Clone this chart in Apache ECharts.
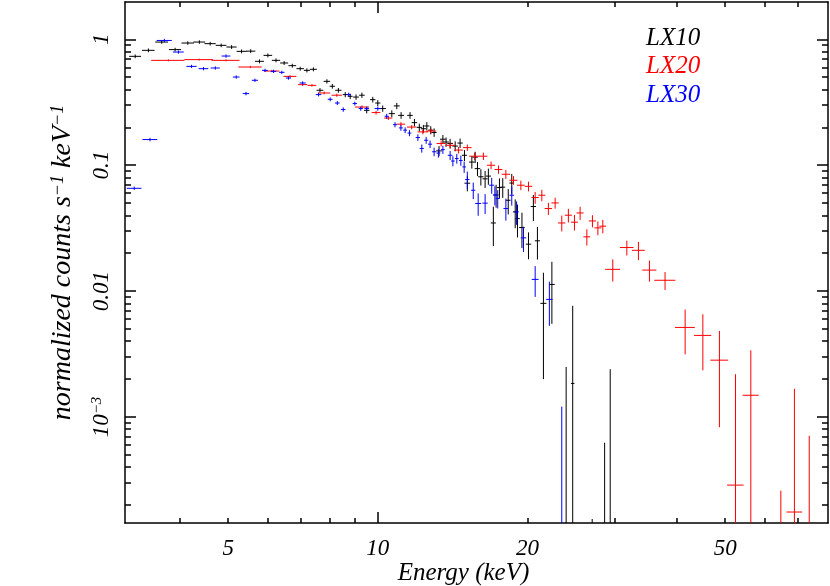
<!DOCTYPE html>
<html><head><meta charset="utf-8">
<script src="https://cdn.jsdelivr.net/npm/echarts@6/dist/echarts.min.js"></script>
<style>html,body{margin:0;padding:0;background:#fff}#c{width:830px;height:586px}</style>
</head><body><div id="c"></div>
<script>
// ---- data (energy keV, half bin width, normalized counts, 1-sigma error) ----
const lx10E  = [3.25,3.455,3.675,3.91,4.147,4.375,4.6,4.84,5.08,5.32,5.55,5.78,6.01,6.24,6.48,6.73,6.98,7.2,7.42,7.65,7.9,8.1,8.33,8.6,8.8,9.04,9.29,9.5,9.77,10.0,10.23,10.67,10.92,11.14,11.61,11.85,12.12,12.35,12.55,12.78,12.98,13.28,13.52,13.72,13.98,14.31,14.64,14.94,15.14,15.46,15.7,15.87,16.12,16.44,16.69,17.08,17.3,17.57,17.84,18.3,18.6,18.9,19.1,19.5,20.1,20.56,20.95,21.54,22.4,23.93,24.67,27.0,28.6,29.35];
const lx10dE = [0.09,0.1,0.11,0.11,0.12,0.12,0.12,0.12,0.12,0.12, 0.12,0.12,0.12,0.12,0.12,0.12,0.12,0.1,0.12,0.12, 0.12,0.1,0.12,0.1,0.1,0.12,0.12,0.12,0.12,0.12, 0.15,0.15,0.15,0.15,0.15,0.15,0.15,0.15,0.15,0.15, 0.15,0.18,0.18,0.18,0.18,0.18,0.18,0.18,0.2,0.2, 0.2,0.2,0.2,0.2,0.2,0.2,0.2,0.2,0.2,0.2, 0.2,0.2,0.2,0.25,0.25,0.25,0.25,0.3,0.3,0.35, 0.2,0.35,0.4,0.4];
const lx10Y  = [0.733,0.818,0.952,0.829,0.935,0.952,0.924,0.896,0.869,0.803,0.806,0.669,0.746,0.681,0.649,0.618,0.585,0.567,0.578,0.394,0.464,0.424,0.394,0.364,0.353,0.348,0.36,0.273,0.332,0.312,0.282,0.257,0.296,0.249,0.249,0.218,0.2,0.195,0.205,0.19,0.182,0.13,0.161,0.153,0.149,0.142,0.15,0.12,0.072,0.106,0.116,0.094,0.081,0.078,0.082,0.0348,0.058,0.0665,0.067,0.0527,0.0722,0.0426,0.0377,0.032,0.0236,0.047,0.0251,0.008,0.0113,0.0001,0.00185,0.0001,0.0001,0.0001];
const lx10dY = [0.025,0.028,0.03,0.028,0.03,0.03,0.03,0.03,0.03,0.028,0.028,0.024,0.026,0.024,0.023,0.022,0.021,0.021,0.021,0.016,0.018,0.018,0.017,0.017,0.017,0.017,0.017,0.015,0.017,0.017,0.016,0.016,0.017,0.015,0.015,0.015,0.014,0.014,0.015,0.014,0.014,0.012,0.013,0.013,0.013,0.013,0.013,0.012,0.01,0.012,0.012,0.012,0.012,0.012,0.012,0.012,0.012,0.012,0.012,0.012,0.013,0.011,0.011,0.01,0.0057,0.011,0.0073,0.006,0.0058,0.0024,0.0058,0.000055,0.000525,0.0023];

const lx20E  = [3.79,4.37,4.95,5.54,6.12,6.66,7.06,7.37,7.8,8.27,9.3,9.92,10.5,11.13,11.7,12.32,12.8,13.41,13.98,14.53,15.14,15.65,16.31,16.9,17.49,18.1,18.75,19.4,20.1,20.73,21.38,22.04,22.74,23.45,24.18,24.87,25.53,26.34,27.03,27.72,28.36,29.7,31.7,33.45,35.2,37.84,41.53,45.08,48.68,52.44,56.3,64.7,68.9,73.8];
const lx20dE = [0.29,0.29,0.32,0.3,0.22,0.2,0.15,0.15,0.22,0.2, 0.3,0.2,0.2,0.22,0.25,0.3,0.3,0.28,0.3,0.3, 0.3,0.38,0.3,0.32,0.32,0.35,0.35,0.35,0.35,0.35, 0.35,0.38,0.38,0.4,0.4,0.4,0.42,0.42,0.45,0.45, 0.45,1.03,1.0,1.0,1.15,1.85,1.9,1.8,2.0,2.0, 2.1,2.4,2.5,2.5];
const lx20Y  = [0.681,0.69,0.681,0.603,0.56,0.508,0.437,0.431,0.375,0.36,0.29,0.262,0.237,0.212,0.201,0.184,0.187,0.149,0.144,0.132,0.138,0.118,0.118,0.1,0.0925,0.0848,0.076,0.0694,0.068,0.0554,0.0578,0.0453,0.0502,0.0348,0.0401,0.0353,0.0418,0.027,0.0361,0.0318,0.0328,0.0149,0.0222,0.0211,0.0147,0.0122,0.00515,0.00445,0.00283,0.000288,0.00149,0.00005,0.000176,0.00005];
const lx20dY = [0.012,0.012,0.012,0.012,0.012,0.011,0.01,0.01,0.01,0.01, 0.009,0.009,0.008,0.008,0.008,0.008,0.008,0.008,0.008,0.008, 0.008,0.008,0.008,0.007,0.007,0.007,0.006,0.006,0.006,0.006, 0.006,0.005,0.005,0.005,0.005,0.005,0.005,0.004,0.004,0.004, 0.004,0.003,0.003,0.0035,0.0028,0.002,0.002,0.0021,0.002,0.0019, 0.0019,0.00021,0.0015,0.00066];

const lx30E  = [3.235,3.48,3.72,3.97,4.22,4.46,4.71,4.95,5.19,5.43,5.66,5.93,6.17,6.41,6.61,7.06,7.6,8.02,8.29,8.52,8.74,8.99,9.24,9.5,10.0,10.42,10.83,11.13,11.35,11.58,12.04,12.26,12.51,12.74,12.98,13.24,13.52,13.98,14.16,14.42,14.69,14.92,15.14,15.56,15.92,16.44,16.95,17.2,17.43,18.1,18.6,19.02,19.64,20.73,22.14,23.45];
const lx30dE = [0.11,0.12,0.13,0.1,0.1,0.1,0.1,0.1,0.08,0.08, 0.08,0.08,0.08,0.08,0.08,0.1,0.1,0.09,0.09,0.09, 0.09,0.09,0.09,0.1,0.15,0.1,0.1,0.1,0.1,0.1, 0.12,0.12,0.12,0.12,0.12,0.12,0.12,0.15,0.12,0.12, 0.12,0.12,0.15,0.15,0.22,0.2,0.2,0.15,0.15,0.2, 0.2,0.2,0.25,0.33,0.33,0.3];
const lx30Y  = [0.0656,0.16,0.98,0.793,0.61,0.585,0.592,0.737,0.502,0.371,0.473,0.567,0.557,0.547,0.493,0.45,0.364,0.334,0.312,0.277,0.364,0.309,0.282,0.282,0.282,0.245,0.21,0.198,0.19,0.18,0.166,0.136,0.158,0.147,0.128,0.125,0.133,0.12,0.108,0.113,0.109,0.097,0.077,0.0633,0.0497,0.05,0.0694,0.058,0.0544,0.0453,0.0578,0.0426,0.0265,0.0124,0.0086,0.00005];
const lx30dY = [0.002,0.005,0.03,0.024,0.018,0.018,0.018,0.022,0.015,0.012, 0.014,0.017,0.017,0.016,0.015,0.014,0.012,0.012,0.011,0.011, 0.013,0.011,0.011,0.011,0.011,0.011,0.01,0.01,0.01,0.01, 0.01,0.01,0.01,0.01,0.01,0.01,0.01,0.01,0.01,0.01, 0.01,0.01,0.012,0.0095,0.01,0.009,0.01,0.01,0.009,0.009, 0.01,0.009,0.006,0.0034,0.0033,0.00116];

// ---- axis ticks / labels ----
const xMinorTicks = [4,5,6,7,8,9,20,30,40,50,60,70];
const xMajorTicks = [10];
const xTickLabels = [5,10,20,50];
const yMinorTicks = [0.0002,0.0003,0.0004,0.0005,0.0006,0.0007,0.0008,0.0009,0.002,0.003,0.004,0.005,0.006,0.007,0.008,0.009,0.02,0.03,0.04,0.05,0.06,0.07,0.08,0.09,0.2,0.3,0.4,0.5,0.6,0.7,0.8,0.9];
const yMajorTicks = [0.001,0.01,0.1,1];
const yTickLabels = [0.001,0.01,0.1,1];
const seriesNames = ['LX10','LX20','LX30'];
const seriesColors = ['#000000','#ff0000','#0000ff'];

const X_MIN = 3.1, X_MAX = 80.5, Y_MIN = 1.44e-4, Y_MAX = 1.98;
const FONT = 'Liberation Serif';

function xAxisDef(pos, ticks, len, main) {
  return {
    type: 'log', logBase: 10, position: pos, min: X_MIN, max: X_MAX,
    axisLine: { show: main, lineStyle: { color: '#000', width: 1.5 } },
    axisTick: { show: true, inside: true, length: len, customValues: ticks, lineStyle: { color: '#000', width: 1.5 } },
    axisLabel: (main && pos === 'bottom') ? {
      show: true, customValues: xTickLabels, margin: 14, color: '#000',
      fontFamily: FONT, fontStyle: 'italic', fontSize: 23,
      formatter: v => String(Math.round(v))
    } : { show: false },
    splitLine: { show: false }, minorTick: { show: false },
    name: (main && pos === 'bottom') ? 'Energy (keV)' : '',
    nameLocation: 'middle', nameGap: 38, nameMoveOverlap: false,
    nameTextStyle: { color: '#000', fontFamily: FONT, fontStyle: 'italic', fontSize: 25, padding: [0, 26, 0, 0] }
  };
}
function yAxisDef(pos, ticks, len, main) {
  return {
    type: 'log', logBase: 10, position: pos, min: Y_MIN, max: Y_MAX,
    axisLine: { show: main, lineStyle: { color: '#000', width: 1.5 } },
    axisTick: { show: true, inside: true, length: len, customValues: ticks, lineStyle: { color: '#000', width: 1.5 } },
    axisLabel: (main && pos === 'left') ? {
      show: true, customValues: yTickLabels, rotate: 90, margin: 12, color: '#000',
      fontFamily: FONT, fontStyle: 'italic', fontSize: 23,
      formatter: v => {
        const p = Math.round(Math.log10(v));
        if (p === 0) return '1';
        if (p === -1) return '0.1';
        if (p === -2) return '0.01';
        return '{n|10}{s|−3}';
      },
      rich: {
        n: { fontFamily: FONT, fontStyle: 'italic', fontSize: 23, color: '#000' },
        s: { fontFamily: FONT, fontStyle: 'italic', fontSize: 15, color: '#000', verticalAlign: 'top', padding: [0, 0, 8, 0] }
      }
    } : { show: false },
    splitLine: { show: false }, minorTick: { show: false },
    name: (main && pos === 'left') ? 'normalized counts s{s|−1} keV{s|−1}' : '',
    nameLocation: 'middle', nameGap: 48, nameRotate: 90,
    nameTextStyle: {
      color: '#000', fontFamily: FONT, fontStyle: 'italic', fontSize: 28,
      rich: { s: { fontFamily: FONT, fontStyle: 'italic', fontSize: 18, color: '#000', verticalAlign: 'top', padding: [0, 0, 10, 0] } }
    }
  };
}

function errSeries(name, E, dE, Y, dY, color) {
  const data = E.map((e, i) => [e, dE[i], Y[i], dY[i]]);
  return {
    type: 'custom', name: name, xAxisIndex: 0, yAxisIndex: 0, clip: true,
    data: data, encode: { x: 0, y: 2 },
    renderItem: function (params, api) {
      const e = api.value(0), de = api.value(1), y = api.value(2), dy = api.value(3);
      const lo = (y - dy) > 0 ? (y - dy) : 1e-9;
      const a = api.coord([e - de, y]), b = api.coord([e + de, y]);
      const c = api.coord([e, y + dy]), d = api.coord([e, lo]);
      return { type: 'group', children: [
        { type: 'line', shape: { x1: a[0], y1: a[1], x2: b[0], y2: b[1] }, style: { stroke: color, lineWidth: 1 } },
        { type: 'line', shape: { x1: c[0], y1: c[1], x2: d[0], y2: d[1] }, style: { stroke: color, lineWidth: 1 } }
      ]};
    }
  };
}

const chart = echarts.init(document.getElementById('c'), null, { renderer: 'canvas' });
chart.setOption({
  animation: false,
  backgroundColor: '#fff',
  grid: { left: 125, right: 2, top: 2, bottom: 63, containLabel: false, outerBoundsMode: 'none' },
  xAxis: [
    xAxisDef('bottom', xMinorTicks, 5, true),
    xAxisDef('bottom', xMajorTicks, 11, false),
    xAxisDef('top', xMinorTicks, 5, true),
    xAxisDef('top', xMajorTicks, 11, false)
  ],
  yAxis: [
    yAxisDef('left', yMinorTicks, 6, true),
    yAxisDef('left', yMajorTicks, 11, false),
    yAxisDef('right', yMinorTicks, 6, true),
    yAxisDef('right', yMajorTicks, 11, false)
  ],
  series: [
    errSeries(seriesNames[0], lx10E, lx10dE, lx10Y, lx10dY, seriesColors[0]),
    errSeries(seriesNames[1], lx20E, lx20dE, lx20Y, lx20dY, seriesColors[1]),
    errSeries(seriesNames[2], lx30E, lx30dE, lx30Y, lx30dY, seriesColors[2])
  ],
  graphic: seriesNames.map((n, i) => ({
    type: 'text', left: 646, top: 26 + i * 28.3,
    style: { text: n, fill: seriesColors[i], fontFamily: FONT, fontStyle: 'italic', fontSize: 25 }
  }))
});
</script></body></html>
